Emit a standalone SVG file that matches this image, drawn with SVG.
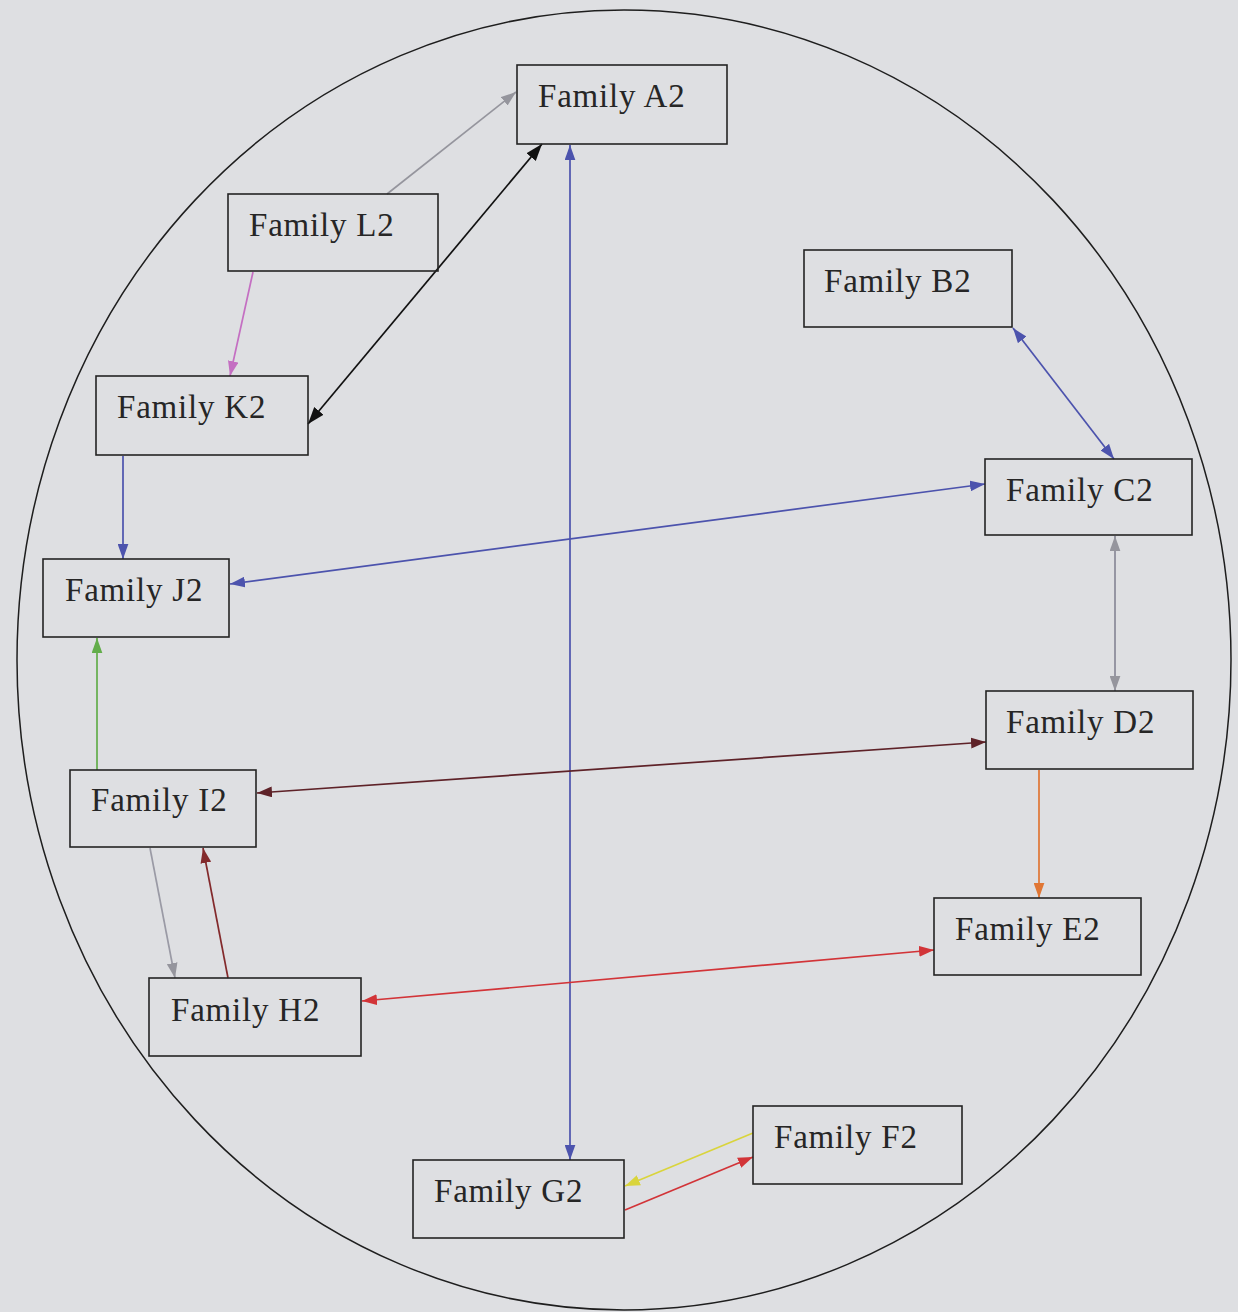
<svg xmlns="http://www.w3.org/2000/svg" width="1238" height="1312" viewBox="0 0 1238 1312">
  <style>
    .node rect { fill: none; stroke: #232323; stroke-width: 1.6; }
    .node text { font-family: "Liberation Serif", "Times New Roman", serif; font-size: 33px; letter-spacing: 0.8px; fill: #262626; }
    .edge { fill: none; stroke-width: 1.7; }
  </style>
  <defs>
    <marker id="m-gray" viewBox="0 0 14 10" refX="14" refY="5" markerWidth="15" markerHeight="11" markerUnits="userSpaceOnUse" orient="auto-start-reverse"><path d="M0,0 L14,5 L0,10 z" fill="#95959d"/></marker>
    <marker id="m-black" viewBox="0 0 14 10" refX="14" refY="5" markerWidth="17" markerHeight="13" markerUnits="userSpaceOnUse" orient="auto-start-reverse"><path d="M0,0 L14,5 L0,10 z" fill="#111"/></marker>
    <marker id="m-blue" viewBox="0 0 14 10" refX="14" refY="5" markerWidth="15" markerHeight="11" markerUnits="userSpaceOnUse" orient="auto-start-reverse"><path d="M0,0 L14,5 L0,10 z" fill="#4c53ad"/></marker>
    <marker id="m-pink" viewBox="0 0 14 10" refX="14" refY="5" markerWidth="15" markerHeight="11" markerUnits="userSpaceOnUse" orient="auto-start-reverse"><path d="M0,0 L14,5 L0,10 z" fill="#c46fc2"/></marker>
    <marker id="m-green" viewBox="0 0 14 10" refX="14" refY="5" markerWidth="15" markerHeight="11" markerUnits="userSpaceOnUse" orient="auto-start-reverse"><path d="M0,0 L14,5 L0,10 z" fill="#62ad4a"/></marker>
    <marker id="m-brown" viewBox="0 0 14 10" refX="14" refY="5" markerWidth="15" markerHeight="11" markerUnits="userSpaceOnUse" orient="auto-start-reverse"><path d="M0,0 L14,5 L0,10 z" fill="#5e2228"/></marker>
    <marker id="m-maroon" viewBox="0 0 14 10" refX="14" refY="5" markerWidth="15" markerHeight="11" markerUnits="userSpaceOnUse" orient="auto-start-reverse"><path d="M0,0 L14,5 L0,10 z" fill="#832a2c"/></marker>
    <marker id="m-orange" viewBox="0 0 14 10" refX="14" refY="5" markerWidth="15" markerHeight="11" markerUnits="userSpaceOnUse" orient="auto-start-reverse"><path d="M0,0 L14,5 L0,10 z" fill="#e07634"/></marker>
    <marker id="m-red" viewBox="0 0 14 10" refX="14" refY="5" markerWidth="15" markerHeight="11" markerUnits="userSpaceOnUse" orient="auto-start-reverse"><path d="M0,0 L14,5 L0,10 z" fill="#d23438"/></marker>
    <marker id="m-yellow" viewBox="0 0 14 10" refX="14" refY="5" markerWidth="15" markerHeight="11" markerUnits="userSpaceOnUse" orient="auto-start-reverse"><path d="M0,0 L14,5 L0,10 z" fill="#d9d43c"/></marker>
  </defs>

  <!-- page -->
  <rect x="0" y="0" width="1238" height="1312" fill="#dedfe2"/>
  <ellipse cx="624" cy="660" rx="607" ry="650" fill="none" stroke="#1e1e1e" stroke-width="1.5"/>

  <g id="connectors">
    <line class="edge" x1="387" y1="194" x2="516" y2="92" stroke="#95959d" marker-end="url(#m-gray)"/>
    <line class="edge" x1="542" y1="144" x2="308" y2="424" stroke="#111" stroke-width="2.6" marker-start="url(#m-black)" marker-end="url(#m-black)"/>
    <line class="edge" x1="570" y1="145" x2="570" y2="1160" stroke="#4c53ad" marker-start="url(#m-blue)" marker-end="url(#m-blue)"/>
    <line class="edge" x1="253" y1="272" x2="230" y2="376" stroke="#c46fc2" marker-end="url(#m-pink)"/>
    <line class="edge" x1="1013" y1="328" x2="1114" y2="459" stroke="#4c53ad" stroke-width="2" marker-start="url(#m-blue)" marker-end="url(#m-blue)"/>
    <line class="edge" x1="985" y1="484" x2="230" y2="584" stroke="#4c53ad" marker-start="url(#m-blue)" marker-end="url(#m-blue)"/>
    <line class="edge" x1="123" y1="456" x2="123" y2="559" stroke="#4c53ad" marker-end="url(#m-blue)"/>
    <line class="edge" x1="1115" y1="536" x2="1115" y2="691" stroke="#8a8a98" marker-start="url(#m-gray)" marker-end="url(#m-gray)"/>
    <line class="edge" x1="97" y1="770" x2="97" y2="638" stroke="#62ad4a" marker-end="url(#m-green)"/>
    <line class="edge" x1="986" y1="742" x2="257" y2="793" stroke="#5e2228" marker-start="url(#m-brown)" marker-end="url(#m-brown)"/>
    <line class="edge" x1="1039" y1="770" x2="1039" y2="898" stroke="#e07634" marker-end="url(#m-orange)"/>
    <line class="edge" x1="150" y1="848" x2="175" y2="978" stroke="#9a9aa5" marker-end="url(#m-gray)"/>
    <line class="edge" x1="228" y1="978" x2="203" y2="848" stroke="#832a2c" stroke-width="2" marker-end="url(#m-maroon)"/>
    <line class="edge" x1="934" y1="950" x2="362" y2="1001" stroke="#d23438" marker-start="url(#m-red)" marker-end="url(#m-red)"/>
    <line class="edge" x1="753" y1="1133" x2="625" y2="1186" stroke="#d9d43c" stroke-width="2" marker-end="url(#m-yellow)"/>
    <line class="edge" x1="625" y1="1210" x2="753" y2="1157" stroke="#d23438" stroke-width="2" marker-end="url(#m-red)"/>
  </g>

  <g id="node-a2" class="node"><rect x="517" y="65" width="210" height="79"/><text x="538" y="107">Family A2</text></g>
  <g id="node-l2" class="node"><rect x="228" y="194" width="210" height="77"/><text x="249" y="236">Family L2</text></g>
  <g id="node-b2" class="node"><rect x="804" y="250" width="208" height="77"/><text x="824" y="292">Family B2</text></g>
  <g id="node-k2" class="node"><rect x="96" y="376" width="212" height="79"/><text x="117" y="418">Family K2</text></g>
  <g id="node-c2" class="node"><rect x="985" y="459" width="207" height="76"/><text x="1006" y="501">Family C2</text></g>
  <g id="node-j2" class="node"><rect x="43" y="559" width="186" height="78"/><text x="65" y="601">Family J2</text></g>
  <g id="node-d2" class="node"><rect x="986" y="691" width="207" height="78"/><text x="1006" y="733">Family D2</text></g>
  <g id="node-i2" class="node"><rect x="70" y="770" width="186" height="77"/><text x="91" y="811">Family I2</text></g>
  <g id="node-e2" class="node"><rect x="934" y="898" width="207" height="77"/><text x="955" y="940">Family E2</text></g>
  <g id="node-h2" class="node"><rect x="149" y="978" width="212" height="78"/><text x="171" y="1021">Family H2</text></g>
  <g id="node-f2" class="node"><rect x="753" y="1106" width="209" height="78"/><text x="774" y="1148">Family F2</text></g>
  <g id="node-g2" class="node"><rect x="413" y="1160" width="211" height="78"/><text x="434" y="1202">Family G2</text></g>
</svg>
